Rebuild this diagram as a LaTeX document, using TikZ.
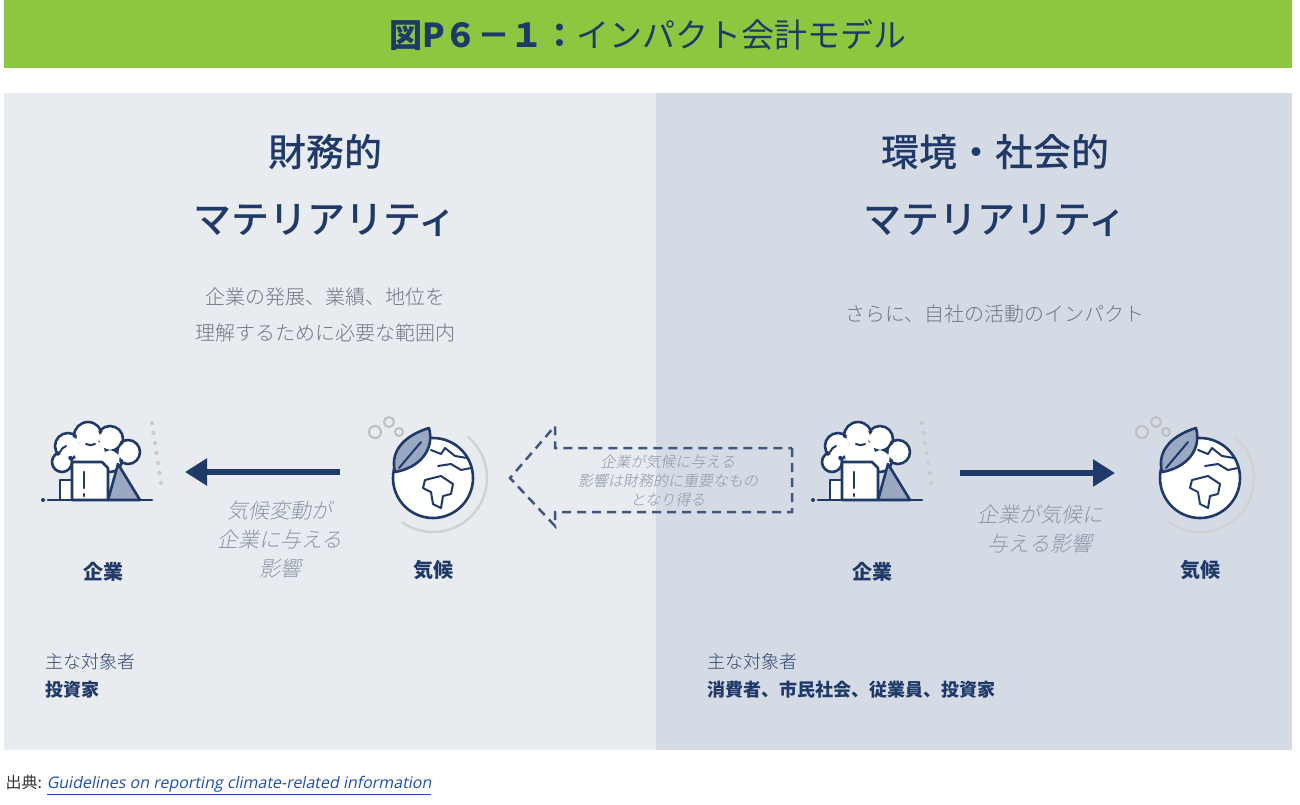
\documentclass[tikz,border=0pt]{standalone}
\usepackage{fontspec}
\setmainfont{Noto Sans CJK JP}
\newfontfamily\jpit[FakeSlant=0.2]{Noto Sans CJK JP Light}
\newfontfamily\jpmed{Noto Sans CJK JP Medium}
\newfontfamily\jplight{Noto Sans CJK JP Light}
\newfontfamily\lsit[FakeSlant=0.2]{Open Sans}
\usetikzlibrary{arrows.meta}
\definecolor{navy}{HTML}{1F3A68}
\definecolor{green}{HTML}{8DC63F}
\definecolor{lpanel}{HTML}{E8EBEF}
\definecolor{rpanel}{HTML}{D5DBE5}
\definecolor{tgray}{HTML}{707884}
\definecolor{igray}{HTML}{8A96A8}
\definecolor{fillb}{HTML}{9AA8C2}
\definecolor{linkb}{HTML}{1F4FB0}
\tikzset{
 head/.style={font=\fontsize{38}{40}\selectfont\jpmed, text=navy},
 sub/.style={font=\fontsize{20}{22}\selectfont\jplight, text=tgray},
 lbl/.style={font=\fontsize{20}{22}\selectfont\bfseries, text=navy},
 itx/.style={font=\fontsize{21}{29}\selectfont\jpit, text=igray},
 aud/.style={font=\fontsize{18}{20}\selectfont\jplight, text=navy!80!gray, anchor=west},
 audb/.style={font=\fontsize{18}{20}\selectfont\bfseries, text=navy, anchor=west},
 ico/.style={draw=navy, line width=2.6pt, line join=round, line cap=round},
}
\newcommand\factory[2]{%
 \begin{scope}[shift={(#1,#2)}]
  \draw[ico, fill=white] (-32,-22) circle (13) (-12,-32) circle (14) (10,-29) circle (13) (28,-16) circle (12) (-38,-6) circle (10) (10,-8) circle (12);
  \fill[white] (-32,-22) circle (10.4) (-12,-32) circle (11.4) (10,-29) circle (10.4) (28,-16) circle (9.4) (-38,-6) circle (7.4) (10,-8) circle (9.4) (-10,-14) circle (15);
  \draw[ico, line width=2pt] (-40,-16) arc (200:250:10) (-14,-24) arc (120:60:9);
  \draw[ico, fill=fillb] (18,-4) -- (40,32) -- (8,32) -- cycle;
  \draw[ico, fill=white] (-40,12) rectangle (-18,32);
  \draw[ico, fill=white] (-28,-6) -- (2,-6) -- (8,0) -- (8,32) -- (-28,32) -- cycle;
  \draw[ico] (-16,4) -- (-16,20) (-16,26) -- (-16,28);
  \draw[ico] (-52,32) -- (52,32);
  \fill[navy] (-57,32) circle (2);
  \foreach \a in {0,...,6}{\fill[gray!40] (52+\a*1.5, -45+\a*10) circle (2.2);}
 \end{scope}}
\newcommand\globe[2]{%
 \begin{scope}[shift={(#1,#2)}]
  \draw[gray!35, line width=2.5pt] (-50:54) arc (-50:125:54);
  \draw[ico, fill=white] (0,0) circle (40);
  \draw[ico, line width=2pt] (-2,-28) -- (8,-24) -- (12,-30) -- (22,-22) -- (34,-20);
  \draw[ico, line width=2pt] (5,-12) -- (18,-14) -- (28,-8) -- (38,-10);
  \draw[ico, line width=2pt] (-8,2) -- (8,-2) -- (20,6) -- (18,16) -- (10,18) -- (8,30) -- (0,26) -- (-2,14) -- (-10,10) -- cycle;
  \draw[ico, fill=fillb] (-38,-6) .. controls (-44,-30) and (-24,-44) .. (-4,-50) .. controls (2,-28) and (-14,-10) .. (-38,-6) -- cycle;
  \draw[ico, line width=2pt] (-34,-10) -- (-12,-36);
  \draw[gray!50, line width=2pt] (-58,-46) circle (6) (-44,-56) circle (5) (-34,-46) circle (4);
 \end{scope}}
\begin{document}
\begin{tikzpicture}[x=1pt,y=-1pt]
\useasboundingbox (0,0) rectangle (1300,804);
\fill[white] (0,0) rectangle (1300,804);
\fill[green] (4,0) rectangle (1292,68);
\node[text=navy, font=\fontsize{33}{36}\selectfont] (title) at (648,35) {\textbf{図P６－１：}インパクト会計モデル};
\fill[lpanel] (4,93) rectangle (656,750);
\fill[rpanel] (656,93) rectangle (1292,750);
\node[head] (h1) at (325,152) {財務的};
\node[head] (h2) at (325,220) {マテリアリティ};
\node[head] (h3) at (995,152) {環境・社会的};
\node[head] (h4) at (995,220) {マテリアリティ};
\node[sub] (s1) at (325,297) {企業の発展、業績、地位を};
\node[sub] (s2) at (325,333) {理解するために必要な範囲内};
\node[sub] (s3) at (995,314) {さらに、自社の活動のインパクト};
\factory{100}{468}
\globe{433}{478}
\factory{870}{468}
\globe{1200}{478}
\node[lbl] (c1) at (103,572) {企業};
\node[lbl] (k1) at (433,570) {気候};
\node[lbl] (c2) at (872,572) {企業};
\node[lbl] (k2) at (1200,570) {気候};
\coordinate (la) at (340,472); \coordinate (lb) at (185,472);
\draw[navy, line width=6pt, -{Triangle[length=22pt,width=26pt]}] (la) -- (lb);
\coordinate (ra) at (960,473); \coordinate (rb) at (1115,473);
\draw[navy, line width=6pt, -{Triangle[length=22pt,width=26pt]}] (ra) -- (rb);
\node[itx, align=center] (t1) at (280,540) {気候変動が\\企業に与える\\影響};
\node[itx, align=center] (t2) at (1040,529) {企業が気候に\\与える影響};
\draw[navy!85, line width=2.5pt, dash pattern=on 9pt off 6pt] (792,448) -- (792,512) -- (555,512) -- (555,526) -- (510,478) -- (555,426) -- (555,448) -- cycle;
\node[font=\fontsize{15}{19}\selectfont\jpit, text=igray, align=center] (t3) at (668,481) {企業が気候に与える\\影響は財務的に重要なもの\\となり得る};
\node[aud] (a1) at (42,662) {主な対象者};
\node[audb] (a2) at (42,690) {投資家};
\node[aud] (a3) at (704,662) {主な対象者};
\node[audb] (a4) at (704,690) {消費者、市民社会、従業員、投資家};
\node[anchor=west, font=\fontsize{16}{18}\selectfont, text=black!80] (src) at (2,785) {出典: \textcolor{linkb}{\lsit\underline{Guidelines on reporting climate-related information}}};
\end{tikzpicture}
\end{document}
